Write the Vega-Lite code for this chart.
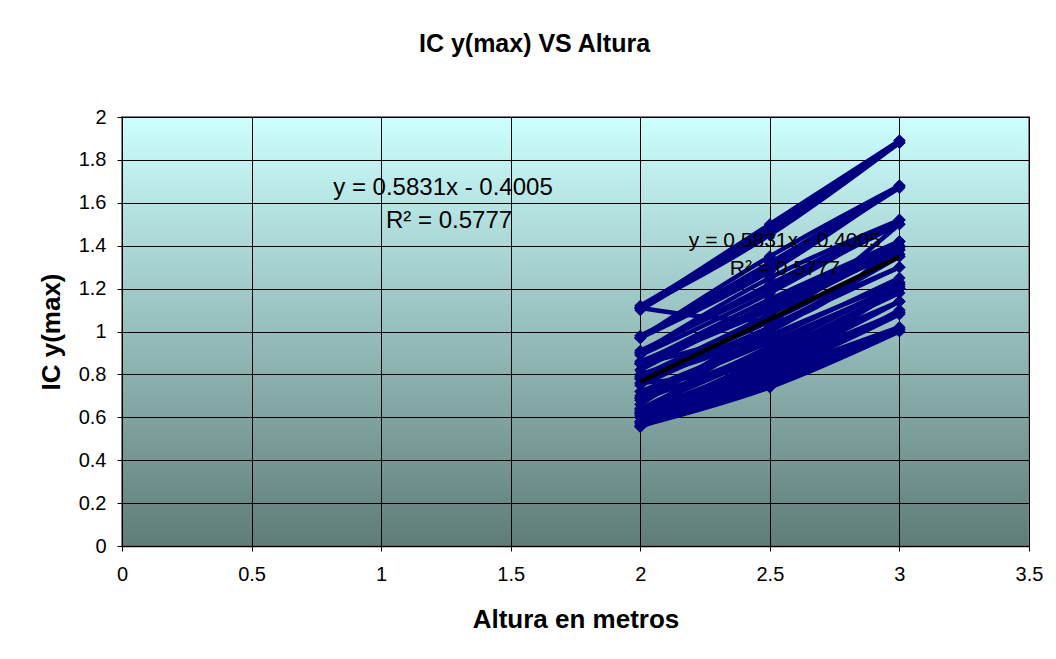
{
  "$schema": "https://vega.github.io/schema/vega-lite/v6.json",
  "width": 907,
  "height": 429,
  "autosize": {"type": "none"},
  "padding": {"left": 122, "top": 117, "right": 27, "bottom": 113},
  "background": "#ffffff",
  "title": {
    "text": "IC y(max) VS Altura",
    "font": "Liberation Sans",
    "fontSize": 25,
    "fontWeight": "bold",
    "color": "#000000",
    "anchor": "middle",
    "dx": -41,
    "offset": 50
  },
  "config": {
    "font": "Liberation Sans",
    "view": {
      "stroke": "#808080",
      "strokeWidth": 2,
      "fill": {
        "gradient": "linear",
        "x1": 0, "y1": 0, "x2": 0, "y2": 1,
        "stops": [
          {"offset": 0, "color": "#CCFFFF"},
          {"offset": 1, "color": "#5F7C78"}
        ]
      }
    },
    "axis": {
      "gridColor": "#000000",
      "gridWidth": 1,
      "gridOpacity": 1,
      "domainColor": "#000000",
      "domainWidth": 1.5,
      "tickColor": "#000000",
      "tickSize": 5,
      "labelFlush": false,
      "labelFont": "Liberation Sans",
      "labelFontSize": 20,
      "labelColor": "#000000",
      "titleFont": "Liberation Sans",
      "titleFontSize": 26,
      "titleFontWeight": "bold",
      "titleColor": "#000000"
    }
  },
  "datasets": {
    "series": [
      {"s": 1, "altura": 2, "ic": 1.11}, {"s": 1, "altura": 2.5, "ic": 1.5}, {"s": 1, "altura": 3, "ic": 1.89},
      {"s": 2, "altura": 2, "ic": 1.12}, {"s": 2, "altura": 2.5, "ic": 1.48}, {"s": 2, "altura": 3, "ic": 1.88},
      {"s": 3, "altura": 2, "ic": 1.1}, {"s": 3, "altura": 2.5, "ic": 1.47}, {"s": 3, "altura": 3, "ic": 1.89},
      {"s": 4, "altura": 2, "ic": 0.97}, {"s": 4, "altura": 2.5, "ic": 1.32}, {"s": 4, "altura": 3, "ic": 1.68},
      {"s": 5, "altura": 2, "ic": 0.98}, {"s": 5, "altura": 2.5, "ic": 1.3}, {"s": 5, "altura": 3, "ic": 1.67},
      {"s": 6, "altura": 2, "ic": 0.97}, {"s": 6, "altura": 2.5, "ic": 1.28}, {"s": 6, "altura": 3, "ic": 1.68},
      {"s": 7, "altura": 2, "ic": 0.9}, {"s": 7, "altura": 2.5, "ic": 1.22}, {"s": 7, "altura": 3, "ic": 1.52},
      {"s": 8, "altura": 2, "ic": 0.91}, {"s": 8, "altura": 2.5, "ic": 1.2}, {"s": 8, "altura": 3, "ic": 1.5},
      {"s": 9, "altura": 2, "ic": 0.89}, {"s": 9, "altura": 2.5, "ic": 1.18}, {"s": 9, "altura": 3, "ic": 1.52},
      {"s": 10, "altura": 2, "ic": 0.85}, {"s": 10, "altura": 2.5, "ic": 1.15}, {"s": 10, "altura": 3, "ic": 1.42},
      {"s": 11, "altura": 2, "ic": 0.86}, {"s": 11, "altura": 2.5, "ic": 1.12}, {"s": 11, "altura": 3, "ic": 1.4},
      {"s": 12, "altura": 2, "ic": 0.85}, {"s": 12, "altura": 2.5, "ic": 1.1}, {"s": 12, "altura": 3, "ic": 1.38},
      {"s": 13, "altura": 2, "ic": 0.79}, {"s": 13, "altura": 2.5, "ic": 1.08}, {"s": 13, "altura": 3, "ic": 1.39},
      {"s": 14, "altura": 2, "ic": 0.78}, {"s": 14, "altura": 2.5, "ic": 1.05}, {"s": 14, "altura": 3, "ic": 1.35},
      {"s": 15, "altura": 2, "ic": 0.8}, {"s": 15, "altura": 2.5, "ic": 1.02}, {"s": 15, "altura": 3, "ic": 1.36},
      {"s": 16, "altura": 2, "ic": 0.69}, {"s": 16, "altura": 2.5, "ic": 0.98}, {"s": 16, "altura": 3, "ic": 1.23},
      {"s": 17, "altura": 2, "ic": 0.7}, {"s": 17, "altura": 2.5, "ic": 0.95}, {"s": 17, "altura": 3, "ic": 1.21},
      {"s": 18, "altura": 2, "ic": 0.68}, {"s": 18, "altura": 2.5, "ic": 0.92}, {"s": 18, "altura": 3, "ic": 1.22},
      {"s": 19, "altura": 2, "ic": 0.64}, {"s": 19, "altura": 2.5, "ic": 0.9}, {"s": 19, "altura": 3, "ic": 1.18},
      {"s": 20, "altura": 2, "ic": 0.63}, {"s": 20, "altura": 2.5, "ic": 0.87}, {"s": 20, "altura": 3, "ic": 1.2},
      {"s": 21, "altura": 2, "ic": 0.62}, {"s": 21, "altura": 2.5, "ic": 0.86}, {"s": 21, "altura": 3, "ic": 1.14},
      {"s": 22, "altura": 2, "ic": 0.61}, {"s": 22, "altura": 2.5, "ic": 0.84}, {"s": 22, "altura": 3, "ic": 1.14},
      {"s": 23, "altura": 2, "ic": 0.6}, {"s": 23, "altura": 2.5, "ic": 0.82}, {"s": 23, "altura": 3, "ic": 1.09},
      {"s": 24, "altura": 2, "ic": 0.58}, {"s": 24, "altura": 2.5, "ic": 0.8}, {"s": 24, "altura": 3, "ic": 1.08},
      {"s": 25, "altura": 2, "ic": 0.57}, {"s": 25, "altura": 2.5, "ic": 0.76}, {"s": 25, "altura": 3, "ic": 1.01},
      {"s": 26, "altura": 2, "ic": 0.56}, {"s": 26, "altura": 2.5, "ic": 0.74}, {"s": 26, "altura": 3, "ic": 1.0},
      {"s": 27, "altura": 2, "ic": 0.555}, {"s": 27, "altura": 2.5, "ic": 0.78}, {"s": 27, "altura": 3, "ic": 1.01},
      {"s": 28, "altura": 2, "ic": 1.11}, {"s": 28, "altura": 2.5, "ic": 1.05}, {"s": 28, "altura": 3, "ic": 1.42},
      {"s": 29, "altura": 2, "ic": 0.76}, {"s": 29, "altura": 2.5, "ic": 0.87}, {"s": 29, "altura": 3, "ic": 1.2},
      {"s": 30, "altura": 2, "ic": 0.66}, {"s": 30, "altura": 2.5, "ic": 1.02}, {"s": 30, "altura": 3, "ic": 1.3},
      {"s": 31, "altura": 2, "ic": 1.11}, {"s": 31, "altura": 2.5, "ic": 1.45}, {"s": 31, "altura": 3, "ic": 1.88},
      {"s": 32, "altura": 2, "ic": 0.97}, {"s": 32, "altura": 2.5, "ic": 1.35}, {"s": 32, "altura": 3, "ic": 1.68},
      {"s": 33, "altura": 2, "ic": 0.9}, {"s": 33, "altura": 2.5, "ic": 1.25}, {"s": 33, "altura": 3, "ic": 1.52},
      {"s": 34, "altura": 2, "ic": 0.85}, {"s": 34, "altura": 2.5, "ic": 1.05}, {"s": 34, "altura": 3, "ic": 1.5},
      {"s": 35, "altura": 2, "ic": 0.82}, {"s": 35, "altura": 2.5, "ic": 1.13}, {"s": 35, "altura": 3, "ic": 1.42},
      {"s": 36, "altura": 2, "ic": 0.78}, {"s": 36, "altura": 2.5, "ic": 1.0}, {"s": 36, "altura": 3, "ic": 1.38},
      {"s": 37, "altura": 2, "ic": 0.75}, {"s": 37, "altura": 2.5, "ic": 1.02}, {"s": 37, "altura": 3, "ic": 1.3},
      {"s": 38, "altura": 2, "ic": 0.72}, {"s": 38, "altura": 2.5, "ic": 0.97}, {"s": 38, "altura": 3, "ic": 1.25},
      {"s": 39, "altura": 2, "ic": 0.69}, {"s": 39, "altura": 2.5, "ic": 0.9}, {"s": 39, "altura": 3, "ic": 1.2},
      {"s": 40, "altura": 2, "ic": 0.64}, {"s": 40, "altura": 2.5, "ic": 0.93}, {"s": 40, "altura": 3, "ic": 1.22},
      {"s": 41, "altura": 2, "ic": 0.62}, {"s": 41, "altura": 2.5, "ic": 0.8}, {"s": 41, "altura": 3, "ic": 1.1},
      {"s": 42, "altura": 2, "ic": 0.6}, {"s": 42, "altura": 2.5, "ic": 0.88}, {"s": 42, "altura": 3, "ic": 1.14},
      {"s": 43, "altura": 2, "ic": 0.58}, {"s": 43, "altura": 2.5, "ic": 0.84}, {"s": 43, "altura": 3, "ic": 1.09},
      {"s": 44, "altura": 2, "ic": 0.56}, {"s": 44, "altura": 2.5, "ic": 0.8}, {"s": 44, "altura": 3, "ic": 1.02},
      {"s": 45, "altura": 2, "ic": 0.62}, {"s": 45, "altura": 2.5, "ic": 1.0}, {"s": 45, "altura": 3, "ic": 1.35}
    ],
    "trend": [
      {"altura": 2, "ic": 0.7657},
      {"altura": 3, "ic": 1.3488}
    ],
    "labels": [
      {"altura": 1.2387, "ic": 1.669, "t": "y = 0.5831x - 0.4005", "sz": 24},
      {"altura": 1.262, "ic": 1.515, "t": "R² = 0.5777", "sz": 24},
      {"altura": 2.558, "ic": 1.422, "t": "y = 0.5831x - 0.4005", "sz": 21},
      {"altura": 2.558, "ic": 1.291, "t": "R² = 0.5777", "sz": 21}
    ]
  },
  "layer": [
    {
      "data": {"name": "series"},
      "mark": {"type": "line", "interpolate": "monotone", "color": "#000080", "strokeWidth": 4.5},
      "encoding": {
        "x": {
          "field": "altura", "type": "quantitative",
          "scale": {"domain": [0, 3.5], "nice": false, "zero": false},
          "axis": {
            "title": "Altura en metros",
            "values": [0, 0.5, 1, 1.5, 2, 2.5, 3, 3.5],
            "format": "~g",
            "labelPadding": 13,
            "titlePadding": 22,
            "grid": true
          }
        },
        "y": {
          "field": "ic", "type": "quantitative",
          "scale": {"domain": [0, 2], "nice": false, "zero": false},
          "axis": {
            "title": "IC y(max)",
            "values": [0, 0.2, 0.4, 0.6, 0.8, 1, 1.2, 1.4, 1.6, 1.8, 2],
            "format": "~g",
            "labelPadding": 11,
            "titlePadding": 14,
            "domainWidth": 1,
            "grid": true
          }
        },
        "detail": {"field": "s", "type": "nominal"}
      }
    },
    {
      "data": {"name": "series"},
      "mark": {"type": "point", "shape": "diamond", "filled": true, "size": 150, "color": "#000080", "opacity": 1},
      "encoding": {
        "x": {"field": "altura", "type": "quantitative"},
        "y": {"field": "ic", "type": "quantitative"}
      }
    },
    {
      "data": {"name": "trend"},
      "mark": {"type": "line", "color": "#000000", "strokeWidth": 4.5},
      "encoding": {
        "x": {"field": "altura", "type": "quantitative"},
        "y": {"field": "ic", "type": "quantitative"}
      }
    },
    {
      "data": {"name": "labels"},
      "mark": {"type": "text", "font": "Liberation Sans", "color": "#000000", "align": "center", "baseline": "middle"},
      "encoding": {
        "x": {"field": "altura", "type": "quantitative"},
        "y": {"field": "ic", "type": "quantitative"},
        "text": {"field": "t"},
        "size": {"field": "sz", "type": "quantitative", "scale": null, "legend": null}
      }
    }
  ]
}
